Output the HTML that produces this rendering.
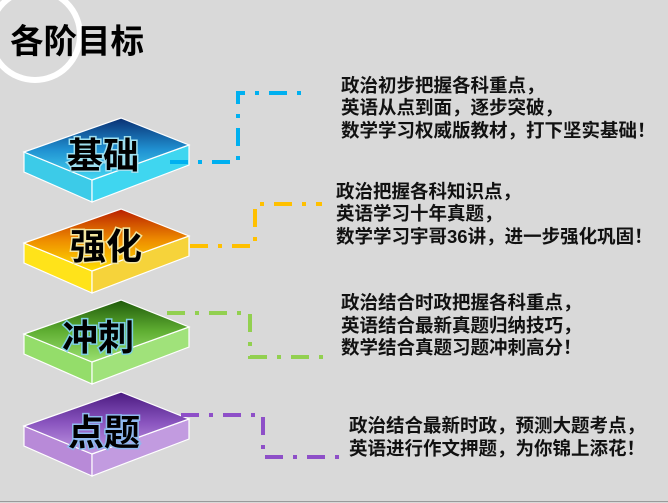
<!DOCTYPE html>
<html><head><meta charset="utf-8"><style>
html,body{margin:0;padding:0;background:#d9d9d9;}
svg{display:block}
.t{font-family:"Liberation Sans","Noto Sans CJK SC",sans-serif;font-weight:bold;font-size:18.5px;fill:#111;}
.s{font-family:"Liberation Sans","Noto Sans CJK SC",sans-serif;font-weight:bold;font-size:36px;fill:#000;stroke-width:3px;paint-order:stroke;}
</style></head><body>
<svg width="668" height="503" viewBox="0 0 668 503" xmlns="http://www.w3.org/2000/svg">
<defs>
<linearGradient id="gb" x1="0" y1="0" x2="0" y2="1"><stop offset="0" stop-color="#0a2f72"/><stop offset="0.5" stop-color="#1f8fd0"/><stop offset="1" stop-color="#45d8f2"/></linearGradient>
<linearGradient id="gy" x1="0" y1="0" x2="0" y2="1"><stop offset="0" stop-color="#b81e00"/><stop offset="0.5" stop-color="#ee8c00"/><stop offset="1" stop-color="#ffe000"/></linearGradient>
<linearGradient id="gg" x1="0" y1="0" x2="0" y2="1"><stop offset="0" stop-color="#1f5a0a"/><stop offset="0.5" stop-color="#5fae32"/><stop offset="1" stop-color="#9be070"/></linearGradient>
<linearGradient id="gp" x1="0" y1="0" x2="0" y2="1"><stop offset="0" stop-color="#4a1a80"/><stop offset="0.5" stop-color="#8a55bf"/><stop offset="1" stop-color="#c29ae3"/></linearGradient>
</defs>
<rect width="668" height="503" fill="#d9d9d9"/>
<circle cx="35" cy="35" r="45" fill="none" stroke="#fff" stroke-width="6"/>
<text x="10" y="53" style="font-family:'Liberation Sans','Noto Sans CJK SC',sans-serif;font-weight:bold;font-size:33.5px;fill:#000">各阶目标</text>
<line x1="0" y1="501.5" x2="668" y2="501.5" stroke="#9a9a9a" stroke-width="1"/>

<g stroke="#fff" stroke-width="1.2">
<g transform="translate(0,118)">
<polygon points="24,34 92,62 92,84 24,54" fill="#3ccbe8"/><polygon points="92,62 189,27 189,47 92,84" fill="#3fd6f0"/>
<polygon points="24,34 121,0 189,27 92,62" fill="url(#gb)"/></g>
<g transform="translate(0,209)">
<polygon points="24,34 92,62 92,84 24,54" fill="#ffe31a"/><polygon points="92,62 189,27 189,47 92,84" fill="#f6d33a"/>
<polygon points="24,34 121,0 189,27 92,62" fill="url(#gy)"/></g>
<g transform="translate(0,300)">
<polygon points="24,34 92,62 92,84 24,54" fill="#94dd6a"/><polygon points="92,62 189,27 189,47 92,84" fill="#a0e27a"/>
<polygon points="24,34 121,0 189,27 92,62" fill="url(#gg)"/></g>
<g transform="translate(0,392)">
<polygon points="24,34 92,62 92,84 24,54" fill="#b88ad8"/><polygon points="92,62 189,27 189,47 92,84" fill="#c29be0"/>
<polygon points="24,34 121,0 189,27 92,62" fill="url(#gp)"/></g>
</g>
<text class="s" x="67" y="168" stroke="#9fe0f0">基础</text>
<text class="s" x="70" y="259" stroke="#f3e6a0">强化</text>
<text class="s" x="62" y="350" stroke="#7fd0e0">冲刺</text>
<text class="s" x="68" y="445" stroke="#8fb8ee">点题</text>

<g fill="none" stroke-width="4" stroke-dasharray="18 10 4 10">
<polyline points="170,162 238,162 238,93 310,93" stroke="#00b0f0"/>
<polyline points="190,246 255,246 255,204 322,204" stroke="#ffc000"/>
<polyline points="167,313 250,313 250,357 332,357" stroke="#92d050"/>
<polyline points="181,415 263,415 263,457 340,457" stroke="#8e4fc8"/>
</g>

<text class="t" x="341" y="92">政治初步把握各科重点，</text>
<text class="t" x="341" y="114">英语从点到面，逐步突破，</text>
<text class="t" x="341" y="137">数学学习权威版教材，打下坚实基础！</text>
<text class="t" x="336" y="198">政治把握各科知识点，</text>
<text class="t" x="336" y="220">英语学习十年真题，</text>
<text class="t" x="336" y="243">数学学习宇哥36讲，进一步强化巩固！</text>
<text class="t" x="341" y="309">政治结合时政把握各科重点，</text>
<text class="t" x="341" y="332">英语结合最新真题归纳技巧，</text>
<text class="t" x="341" y="354">数学结合真题习题冲刺高分！</text>
<text class="t" x="349" y="432">政治结合最新时政，预测大题考点，</text>
<text class="t" x="349" y="455">英语进行作文押题，为你锦上添花！</text>
</svg>
</body></html>
